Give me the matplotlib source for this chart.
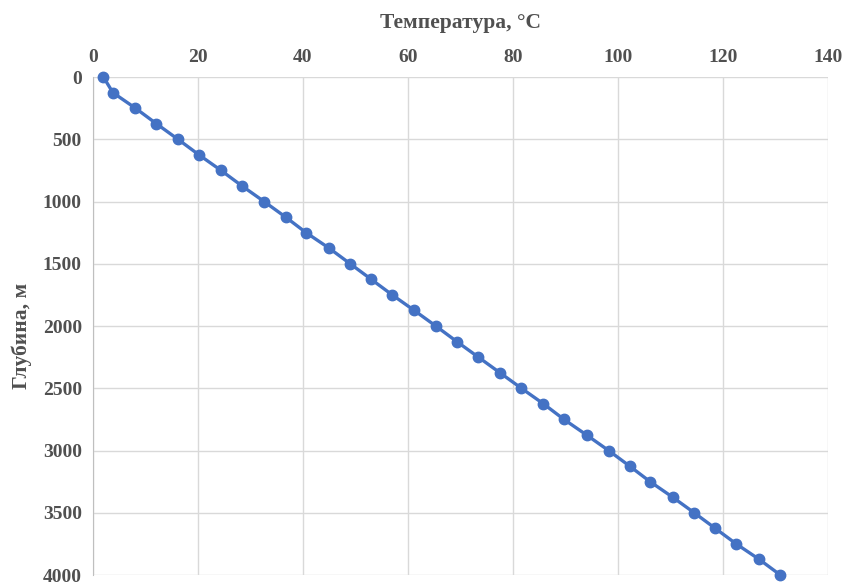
import matplotlib
matplotlib.use("Agg")
import matplotlib.pyplot as plt

# depth, m  /  temperature, C
depth = [0, 125, 250, 375, 500, 625, 750, 875, 1000, 1125, 1250, 1375, 1500,
         1625, 1750, 1875, 2000, 2125, 2250, 2375, 2500, 2625, 2750, 2875,
         3000, 3125, 3250, 3375, 3500, 3625, 3750, 3875, 4000]
temp = [2.0, 3.8, 8.1, 12.1, 16.2, 20.2, 24.4, 28.4, 32.6, 36.7, 40.6, 45.0,
        49.0, 53.0, 57.0, 61.2, 65.3, 69.3, 73.4, 77.5, 81.6, 85.8, 89.7,
        94.0, 98.2, 102.2, 106.1, 110.4, 114.5, 118.5, 122.5, 126.9, 130.9]

x_ticks = [0, 20, 40, 60, 80, 100, 120, 140]
y_ticks = [0, 500, 1000, 1500, 2000, 2500, 3000, 3500, 4000]

plt.rcParams['font.family'] = ['Liberation Serif', 'DejaVu Serif']
txt = '#505050'

fig = plt.figure(figsize=(8.45, 5.84), dpi=100)
ax = fig.add_axes([0.110, 0.0154, 0.870, 0.8526])

ax.plot(temp, depth, color='#4472C4', lw=2.4, marker='o', ms=7.5, zorder=3, clip_on=False)

ax.set_xlim(0, 140)
ax.set_ylim(4000, 0)
ax.set_xticks(x_ticks)
ax.set_yticks(y_ticks)
ax.xaxis.tick_top()
ax.xaxis.set_label_position('top')
ax.tick_params(length=0, labelsize=14, colors=txt, pad=8)
for lab in ax.get_xticklabels() + ax.get_yticklabels():
    lab.set_fontweight('bold')

ax.grid(True, color='#d9d9d9', lw=1)
ax.set_axisbelow(True)
for s in ['top', 'right', 'bottom']:
    ax.spines[s].set_visible(False)
ax.spines['left'].set_color('#bfbfbf')

ax.set_xlabel('Температура, °C', fontsize=15.5, fontweight='bold', color=txt, labelpad=15)
ax.set_ylabel('Глубина, м', fontsize=15.5, fontweight='bold', color=txt)
ax.yaxis.set_label_coords(-0.083, 0.48)

fig.savefig('out.png', dpi=100)
